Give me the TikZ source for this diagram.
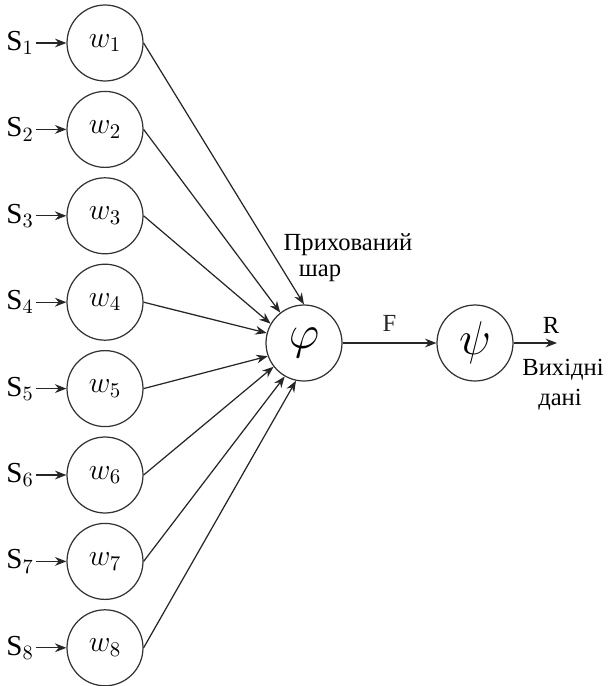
\documentclass[tikz,border=0pt]{standalone}
\usepackage{fix-cm}
\usepackage{fontspec}
\setmainfont{Liberation Serif}
\usetikzlibrary{arrows.meta}

\begin{document}
\begin{tikzpicture}[x=0.02cm, y=-0.02cm,
    cell/.style={circle, draw=black!80, line width=0.7pt, minimum size=1.52cm, inner sep=0pt,
      font=\fontsize{17}{20}\selectfont},
    big/.style={font=\fontsize{27}{32}\selectfont},
    arr/.style={-{Stealth[length=6.5pt,width=5pt]}, line width=0.7pt, black!85},
    inlbl/.style={inner sep=1pt, font=\fontsize{16.5}{19}\selectfont},
    lbl/.style={inner sep=1pt, font=\fontsize{14}{16}\selectfont}]
  \useasboundingbox (0,0) rectangle (609,686);
  % Inputs and weights
  \foreach \i in {1,...,8} {
    \node[cell] (w\i) at (105,{43+86.4*(\i-1)}) {$w_{\i}$};
    \node[inlbl] (s\i) at (20,{43+86.4*(\i-1)}) {S$_{\i}$};
    \draw[arr] (s\i) -- (w\i);
  }
  % Hidden layer and output
  \node[cell, big] (phi) at (304,343) {$\varphi$};
  \node[cell, big] (psi) at (475,343) {$\psi$};
  \foreach \i/\a in {1/90,2/128,3/150,4/165,5/200,6/218,7/240,8/258}
    \draw[arr] (w\i.east) -- (phi.\a);
  \draw[arr] (phi) -- node[lbl, above=5pt] (f) {F} (psi);
  \coordinate (out) at (557,343);
  \draw[arr] (psi) -- (out);
  % Labels
  \node[lbl] (r) at (551,325) {R};
  \node[lbl] (hid1) at (348,245) {Прихований};
  \node[lbl] (hid2) at (320,273) {шар};
  \node[lbl] (res1) at (563,370) {Вихідні};
  \node[lbl] (res2) at (560,400) {дані};
\end{tikzpicture}
\end{document}
